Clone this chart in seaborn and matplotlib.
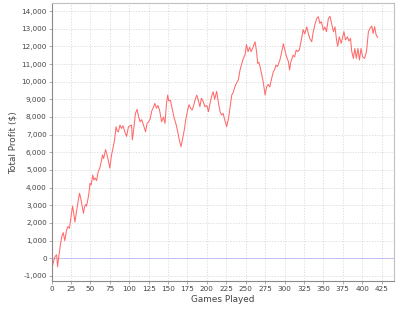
import matplotlib
matplotlib.use("Agg")
import matplotlib.pyplot as plt
import seaborn as sns
import pandas as pd
from matplotlib.ticker import FuncFormatter, MultipleLocator

games = [0, 1, 3, 4.5, 6.5, 7.7, 9, 11.6, 13.7, 15, 17, 19.3, 21, 23, 25, 27, 28.5, 30, 32, 34,
         36, 37.5, 39.5, 41, 42.5, 44, 45, 47, 48, 49.5, 51, 53, 54.5, 56, 58, 60, 62, 64.4, 65.5, 67,
         69.5, 71, 73, 75, 77, 79.4, 81, 83, 84.5, 86, 88, 90, 92, 94, 96.6, 99, 101, 103, 104, 106,
         108, 110, 112, 114, 116, 119, 121, 123, 125, 127, 129, 131, 133, 135, 137, 139, 141.7, 144, 146, 148,
         149.5, 151, 153, 155, 158, 160, 162, 164.5, 166.6, 168, 171, 173, 175, 177, 179, 181, 183, 185, 187, 189,
         191, 193, 195, 197.5, 200, 202, 204, 206, 208, 210, 212.6, 214.5, 217, 219, 221, 223, 225.5, 228, 230, 232,
         234, 236, 238, 240.5, 242.7, 245, 247, 249, 251, 253, 255, 257, 259, 262, 264, 265.4, 267, 268.5, 270.6, 272.5,
         275, 277, 279, 281, 283.5, 285.6, 287, 289, 291, 294, 296, 298.5, 300, 302, 305, 306.5, 308, 311, 313, 315,
         317, 319, 322, 324, 326, 328.6, 330.5, 332.5, 335, 337, 339, 341.5, 343.5, 345.5, 347.5, 350, 352, 354, 356.5, 358.6,
         360.5, 363, 365, 367, 368.5, 370.5, 373, 375, 376.5, 378.5, 381, 383, 385, 386.6, 388.7, 390.5, 392.5, 394.5, 396.5, 398.5,
         400.5, 403, 405, 406, 408, 410, 412.4, 414, 416, 418, 420]
profit = [-280, -450, -100, 100, 200, -480, 0, 850, 1320, 1450, 1000, 1600, 1800, 1700, 2360, 2950, 2550, 2050, 2640, 3200,
          3680, 3400, 2920, 2550, 2920, 3050, 2950, 3400, 3680, 4250, 4150, 4720, 4430, 4550, 4400, 4900, 5100, 5560, 5850, 5650,
          6150, 5940, 5550, 5100, 5800, 6320, 6650, 7450, 7200, 7160, 7540, 7350, 7500, 7200, 6900, 7450, 7500, 7540, 6700, 7400,
          8200, 8430, 8030, 7730, 7850, 7450, 7160, 7640, 7730, 7900, 8340, 8530, 8770, 8500, 8650, 8400, 7730, 8000, 7640, 8770,
          9240, 8900, 8950, 8530, 7920, 7640, 7260, 6700, 6320, 6600, 7300, 7900, 8340, 8700, 8500, 8400, 8650, 9000, 9240, 8950,
          8580, 9060, 8900, 8580, 8650, 8300, 8750, 9145, 9430, 9000, 9450, 8900, 8300, 8110, 8200, 7830, 7450, 7950, 8580, 9240,
          9400, 9700, 9900, 10100, 10660, 11035, 11320, 11500, 12100, 11700, 11950, 11700, 11900, 12260, 11700, 11035, 11100, 10850, 10400, 10000,
          9240, 9710, 9850, 9700, 10190, 10570, 10650, 10940, 10850, 11225, 11600, 12150, 11880, 11500, 11130, 10660, 11100, 11500, 11400, 11790,
          11700, 11790, 12450, 12950, 12700, 13100, 12750, 12450, 12260, 12830, 13200, 13580, 13680, 13300, 13400, 12920, 13100, 12830, 13580, 13700,
          13300, 12830, 13100, 12360, 12000, 12540, 12170, 12540, 12830, 12360, 12540, 12300, 12450, 11700, 11320, 11880, 11320, 11880, 11225, 11880,
          11410, 11320, 11600, 11880, 12830, 13015, 13150, 12730, 13110, 12640, 12500]

x_label = "Games Played"
y_label = "Total Profit ($)"

df = pd.DataFrame({"Games": games, "Profit": profit})

sns.set_style("white")
plt.rcParams["font.family"] = ["DejaVu Sans"]

fig = plt.figure(figsize=(4.0, 3.11), dpi=100)
ax = fig.add_axes([0.129, 0.0965, 0.856, 0.8925])

sns.lineplot(data=df, x="Games", y="Profit", ax=ax, color="#ff6a6a", linewidth=0.75, estimator=None, sort=False)
ax.axhline(0, color="#8080ff", linewidth=0.6, linestyle=(0, (1.2, 1.2)), zorder=1)

ax.set_xlim(0, 441)
ax.set_ylim(-1285, 14430)
ax.xaxis.set_major_locator(MultipleLocator(25))
ax.yaxis.set_major_locator(MultipleLocator(1000))
ax.yaxis.set_major_formatter(FuncFormatter(lambda v, p: f"{int(round(v)):,}"))

ax.grid(True, color="#d4d4d4", linewidth=0.5, linestyle=(0, (2, 2)))
ax.set_axisbelow(True)

for s in ["top", "right"]:
    ax.spines[s].set_color("#c0c0c0")
    ax.spines[s].set_linewidth(0.8)
for s in ["left", "bottom"]:
    ax.spines[s].set_color("#8a8a8a")
    ax.spines[s].set_linewidth(0.8)

ax.tick_params(axis="both", which="major", labelsize=5.2, colors="#444444", length=2, width=0.5,
               direction="out", pad=1.5, left=True, bottom=True)
ax.tick_params(axis="both", color="#8a8a8a")

ax.set_xlabel(x_label, fontsize=6.4, color="#444444", labelpad=2)
ax.set_ylabel(y_label, fontsize=6.4, color="#444444", labelpad=3)

fig.savefig("out.png", dpi=100)
